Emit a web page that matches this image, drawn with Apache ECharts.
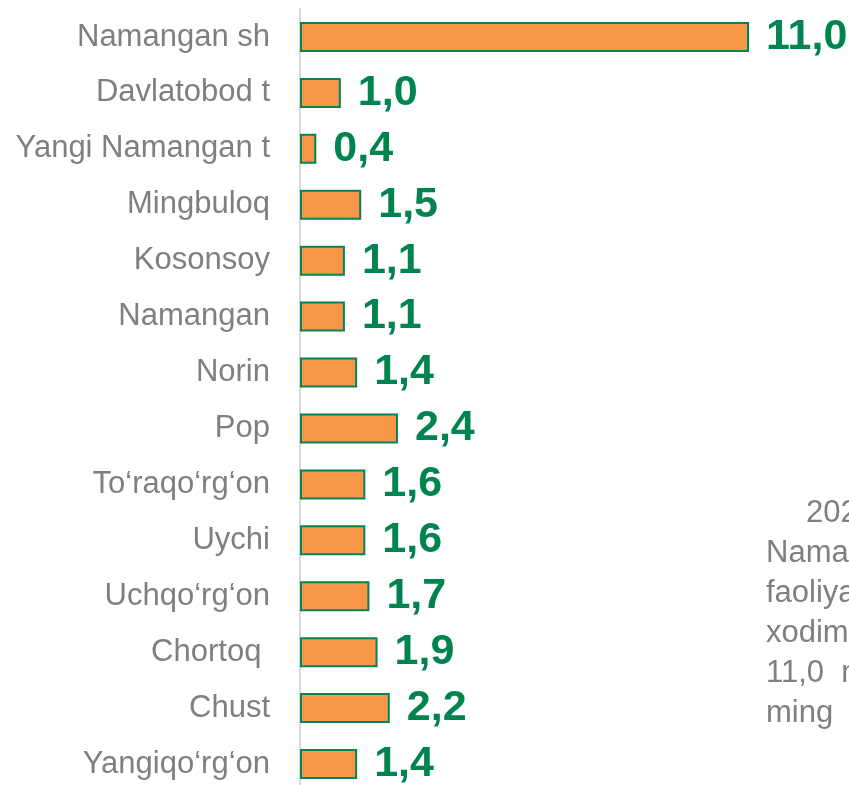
<!DOCTYPE html>
<html><head><meta charset="utf-8">
<script src="https://cdn.jsdelivr.net/npm/echarts@6/dist/echarts.min.js"></script>
<style>html,body{margin:0;padding:0;background:#fff;overflow:hidden}#c{width:849px;height:800px}</style>
</head><body><div id="c"></div>
<script>
const categories = ["Namangan sh","Davlatobod t","Yangi Namangan t","Mingbuloq","Kosonsoy","Namangan","Norin","Pop","To‘raqo‘rg‘on","Uychi","Uchqo‘rg‘on","Chortoq ","Chust","Yangiqo‘rg‘on"];
const values = [11.0,1.0,0.4,1.5,1.1,1.1,1.4,2.4,1.6,1.6,1.7,1.9,2.2,1.4];
const sideText = ["2023-yil","Namangan","faoliyat","xodimlar","11,0  ming","ming"];

const chart = echarts.init(document.getElementById('c'), null, {renderer:'canvas'});
const FF = 'Liberation Sans, Arial, sans-serif';
chart.setOption({
  animation:false,
  grid:{left:300, top:9, width:449, height:783, containLabel:false},
  xAxis:{type:'value', min:0, max:11, show:false},
  yAxis:{type:'category', data:categories, inverse:true,
    axisLine:{show:true, lineStyle:{color:'#d9d9d9', width:2}},
    axisTick:{show:false},
    axisLabel:{color:'#7f7f7f', fontSize:31, fontFamily:FF, margin:30}
  },
  series:[{type:'bar', data:values, barWidth:30,
    itemStyle:{color:'#F79646', borderColor:'#00845A', borderWidth:2},
    label:{show:true, position:'right', distance:17, color:'#00844F', fontWeight:'bold', fontSize:43,
      fontFamily:FF,
      formatter:p=>p.value.toFixed(1).replace('.',',')}
  }],
  graphic: sideText.map((t,i)=>({type:'text', x:(i===0?806:766), y:513+i*40,
    style:{text:t, fill:'#7f7f7f', fontSize:31, fontFamily:FF, verticalAlign:'middle'}}))
});
</script></body></html>
